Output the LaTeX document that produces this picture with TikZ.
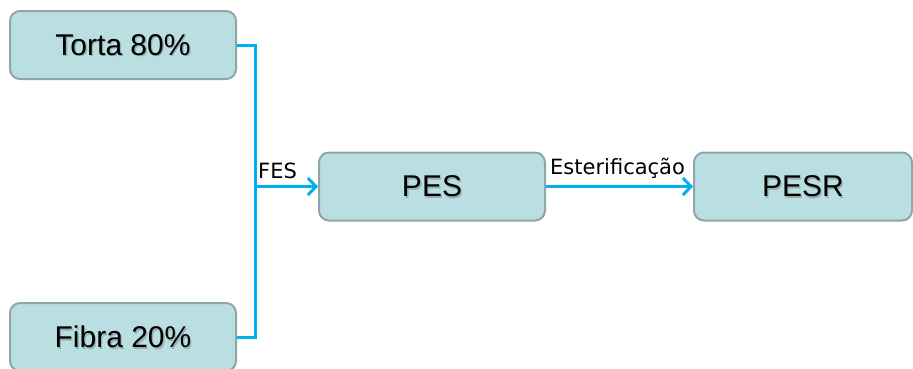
\documentclass[tikz,border=0pt]{standalone}
\usepackage{fontspec}
\setmainfont{Liberation Sans}
\newfontfamily\labelfont{DejaVu Sans}
\usetikzlibrary{arrows.meta}
\definecolor{boxfill}{HTML}{B9DFE2}
\definecolor{boxline}{HTML}{8FA5A6}
\definecolor{flow}{HTML}{00B0F0}
\tikzset{
  stagefont/.style={font=\fontsize{30}{34}\selectfont},
  stagebox/.style={draw=boxline, line width=2pt, fill=boxfill, rounded corners=10pt,
    minimum width=226pt, minimum height=68pt, inner sep=0pt, stagefont,
    path picture={\node[stagefont, inner sep=0pt, text=black!60, opacity=0.4]
      at ([shift={(1.3pt,-1.3pt)}]path picture bounding box.center) {#1};},
    node contents={#1}},
  flowline/.style={draw=flow, line width=3pt},
  flowarrow/.style={flowline, -{Straight Barb[length=8pt,width=17pt,line width=3pt]}},
  steplabel/.style={font=\labelfont\fontsize{21}{24}\selectfont, inner sep=0pt, anchor=base west}
}
\begin{document}
\begin{tikzpicture}[x=1pt,y=-1pt]
  \useasboundingbox (0,0) rectangle (913,368);
  % feedstock boxes
  \node[name=torta, at={(123,45)}, stagebox={Torta 80\%}];
  \node[name=fibra, at={(123,337)}, stagebox={Fibra 20\%}];
  % products
  \node[name=pes, at={(432,186.5)}, stagebox={PES}];
  \node[name=pesr, at={(803,186.5)}, stagebox={PESR}, minimum width=218pt];
  % merge point of the two feedstocks
  \coordinate (join) at (255,186.5);
  \draw[flowline] (torta.east) -| (join);
  \draw[flowline] (fibra.east) -| (join);
  \draw[flowarrow] (join) -- (pes.west);
  \draw[flowarrow] (pes.east) -- (pesr.west);
  % step labels
  \node[steplabel] (fes) at (258,178) {FES};
  \node[steplabel] (ester) at (550,174) {Esterificação};
\end{tikzpicture}
\end{document}
